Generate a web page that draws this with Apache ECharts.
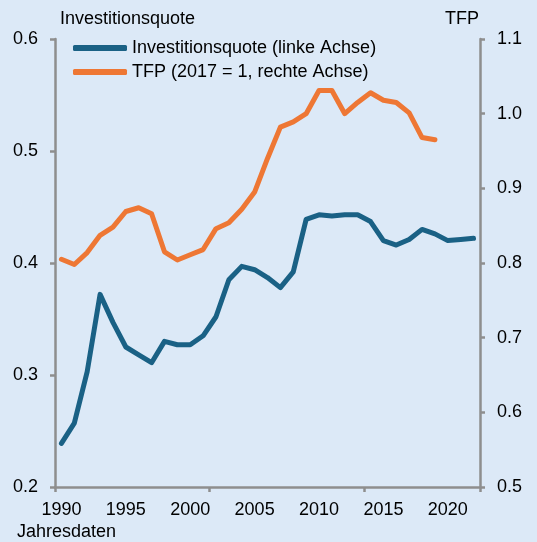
<!DOCTYPE html>
<html>
<head>
<meta charset="utf-8">
<script src="https://cdn.jsdelivr.net/npm/echarts@6/dist/echarts.min.js"></script>
<style>
  html, body { margin: 0; padding: 0; background: #dce9f7; }
  #chart { width: 537px; height: 542px; }
</style>
</head>
<body>
<div id="chart"></div>
<script>
// Jahre 1990-2022
const years = [];
for (let y = 1990; y <= 2022; y++) years.push(String(y));

// Investitionsquote (linke Achse)
const invest = [0.239, 0.257, 0.303, 0.372, 0.347, 0.325, 0.318, 0.311, 0.330, 0.327,
  0.327, 0.335, 0.352, 0.385, 0.397, 0.394, 0.387, 0.378, 0.392, 0.439,
  0.443, 0.442, 0.443, 0.443, 0.437, 0.420, 0.416, 0.421, 0.430, 0.426,
  0.420, 0.421, 0.422];

// TFP (2017 = 1, rechte Achse), endet 2019
const tfp = [0.805, 0.798, 0.814, 0.837, 0.848, 0.869, 0.874, 0.866, 0.815, 0.804,
  0.811, 0.818, 0.846, 0.854, 0.872, 0.895, 0.940, 0.982, 0.989, 1.000,
  1.031, 1.031, 1.000, 1.015, 1.028, 1.018, 1.015, 1.001, 0.968, 0.965];

const leftTicks = [0.2, 0.6];   // min, max
const rightTicks = [0.5, 1.1];

const names = ['Investitionsquote (linke Achse)', 'TFP (2017 = 1, rechte Achse)'];
const blue = '#1a6185';
const orange = '#ee7734';
const axisGray = '#8e8e8e';
const font = 'Arial, "Liberation Sans", sans-serif';

const chart = echarts.init(document.getElementById('chart'));

const axisCommon = {
  axisLine: { show: true, lineStyle: { color: axisGray, width: 2.5 } },
  axisTick: { show: true, inside: false, length: 5, lineStyle: { color: axisGray, width: 2.5 } },
  splitLine: { show: false },
  axisLabel: { color: '#000', fontSize: 18, fontFamily: font, margin: 17,
    formatter: v => Number(v).toFixed(1) }
};

chart.setOption({
  backgroundColor: '#dce9f7',
  animation: false,
  textStyle: { fontFamily: font },
  grid: { left: 55, right: 57, top: 39, bottom: 55, containLabel: false },
  legend: {
    data: names.map(n => ({ name: n, icon: 'roundRect' })),
    orient: 'vertical',
    left: 68,
    top: 34,
    itemWidth: 54,
    itemHeight: 6,
    itemGap: 6,
    textStyle: { fontSize: 18, color: '#000', fontFamily: font }
  },
  xAxis: {
    type: 'category',
    data: years,
    boundaryGap: true,
    axisLine: { lineStyle: { color: axisGray, width: 2.5 } },
    axisTick: { show: true, interval: 11, alignWithLabel: false, length: 5,
      lineStyle: { color: axisGray, width: 2.5 } },
    axisLabel: { interval: 4, color: '#000', fontSize: 18, fontFamily: font, margin: 14 },
    splitLine: { show: false }
  },
  yAxis: [
    Object.assign({}, axisCommon, {
      type: 'value', position: 'left',
      min: leftTicks[0], max: leftTicks[1], interval: 0.1
    }),
    Object.assign({}, axisCommon, {
      type: 'value', position: 'right',
      min: rightTicks[0], max: rightTicks[1], interval: 0.1
    })
  ],
  graphic: [
    { type: 'text', left: 60, top: 10,
      style: { text: 'Investitionsquote', fontSize: 18, fontFamily: font, fill: '#000' } },
    { type: 'text', left: 445, top: 10,
      style: { text: 'TFP', fontSize: 18, fontFamily: font, fill: '#000' } },
    { type: 'text', left: 17, top: 523,
      style: { text: 'Jahresdaten', fontSize: 18, fontFamily: font, fill: '#000' } }
  ],
  series: [
    {
      name: names[0], type: 'line', yAxisIndex: 0, data: invest,
      symbol: 'none', color: blue,
      lineStyle: { width: 5, color: blue, cap: 'round', join: 'round' }
    },
    {
      name: names[1], type: 'line', yAxisIndex: 1, data: tfp,
      symbol: 'none', color: orange,
      lineStyle: { width: 5, color: orange, cap: 'round', join: 'round' }
    }
  ]
});
</script>
</body>
</html>
